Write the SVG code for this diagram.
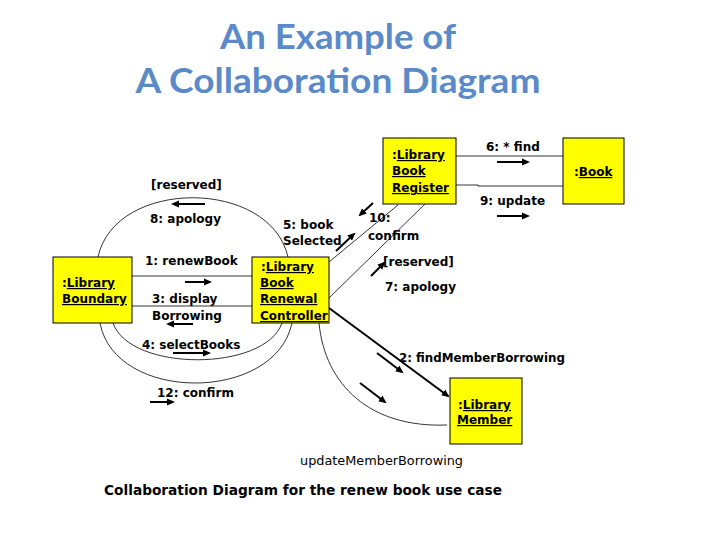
<svg xmlns="http://www.w3.org/2000/svg" width="720" height="540" viewBox="0 0 720 540">
<defs>
<marker id="ah" markerWidth="9" markerHeight="9" refX="6" refY="4.5" orient="auto" markerUnits="userSpaceOnUse">
<path d="M0,1 L8,4.5 L0,8 z" fill="#000"/>
</marker>
<style>
.t{font-family:"DejaVu Sans","Liberation Sans",sans-serif;font-size:12px;font-weight:bold;fill:#000}
.u{text-decoration:underline}
.box{fill:#ffff00;stroke:#000;stroke-width:1}
.ln{fill:none;stroke:#000;stroke-width:0.8}
.ar{stroke:#000;stroke-width:2;marker-end:url(#ah)}
.title{font-family:"Lato","Open Sans",sans-serif;font-weight:bold;font-size:35px;fill:#5b8ac9}
</style>
</defs>
<rect width="720" height="540" fill="#fff"/>
<text class="title" x="338" y="49" text-anchor="middle" textLength="236" lengthAdjust="spacingAndGlyphs">An Example of</text>
<text class="title" x="338" y="93" text-anchor="middle" textLength="405" lengthAdjust="spacingAndGlyphs">A Collaboration Diagram</text>

<g id="connectors">
<line class="ln" x1="132" y1="276" x2="252" y2="276"/>
<line class="ln" x1="132" y1="306" x2="252" y2="306"/>
<line class="ln" x1="456" y1="156" x2="563" y2="156"/>
<polyline class="ln" points="456,185 478,185 478,186 563,186"/>
<line class="ln" x1="329" y1="262" x2="398" y2="205"/>
<line class="ln" x1="329" y1="298" x2="425" y2="204"/>
<line x1="329" y1="308" x2="448" y2="396" stroke="#000" stroke-width="2" marker-end="url(#ah)"/>
<path class="ln" d="M319,323 C325,385 370,428 447,425"/>
<path class="ln" d="M98,257 C115,178 270,178 288,257"/>
<path class="ln" d="M113,323 C130,372 265,372 282,323"/>
<path class="ln" d="M100,323 C115,403 275,403 292,323"/>
<!-- message arrows -->
<line class="ar" x1="185" y1="282" x2="210" y2="282"/>
<line class="ar" x1="193" y1="324" x2="168" y2="324"/>
<line class="ar" x1="205" y1="204" x2="173" y2="204"/>
<line class="ar" x1="173" y1="353" x2="209" y2="353"/>
<line class="ar" x1="150" y1="402" x2="173" y2="402"/>
<line class="ar" x1="497" y1="162" x2="528" y2="162"/>
<line class="ar" x1="497" y1="216" x2="528" y2="216"/>
<line class="ar" x1="336" y1="251" x2="354" y2="234"/>
<line class="ar" x1="373" y1="203" x2="360" y2="215"/>
<line class="ar" x1="371" y1="276" x2="384" y2="263"/>
<line class="ar" x1="377" y1="353" x2="402" y2="372"/>
<line class="ar" x1="360" y1="383" x2="385" y2="402"/>
</g>

<g id="boundary">
<rect class="box" x="53" y="257" width="79" height="66"/>
<text class="t" x="62" y="287">:<tspan class="u">Library</tspan></text>
<text class="t u" x="62" y="303">Boundary</text>
</g>
<g id="controller">
<rect class="box" x="252" y="257" width="77" height="66"/>
<text class="t" x="261" y="271">:<tspan class="u">Library</tspan></text>
<text class="t u" x="260" y="287">Book</text>
<text class="t u" x="260" y="303">Renewal</text>
<text class="t u" x="260" y="320">Controller</text>
</g>
<g id="register">
<rect class="box" x="383" y="138" width="73" height="66"/>
<text class="t" x="392" y="159">:<tspan class="u">Library</tspan></text>
<text class="t u" x="392" y="175">Book</text>
<text class="t u" x="392" y="192">Register</text>
</g>
<g id="book">
<rect class="box" x="563" y="138" width="61" height="66"/>
<text class="t" x="574" y="176">:<tspan class="u">Book</tspan></text>
</g>
<g id="member">
<rect class="box" x="450" y="378" width="72" height="66"/>
<text class="t" x="458" y="409">:<tspan class="u">Library</tspan></text>
<text class="t u" x="457" y="424">Member</text>
</g>

<g id="labels">
<text class="t" x="151" y="189">[reserved]</text>
<text class="t" x="150" y="223">8: apology</text>
<text class="t" x="145" y="265">1: renewBook</text>
<text class="t" x="152" y="303">3: display</text>
<text class="t" x="152" y="320">Borrowing</text>
<text class="t" x="142" y="349">4: selectBooks</text>
<text class="t" x="157" y="397">12: confirm</text>
<text class="t" x="283" y="229">5: book</text>
<text class="t" x="283" y="245">Selected</text>
<text class="t" x="486" y="151">6: * find</text>
<text class="t" x="480" y="205">9: update</text>
<text class="t" x="369" y="222">10:</text>
<text class="t" x="368" y="240">confirm</text>
<text class="t" x="383" y="266">[reserved]</text>
<text class="t" x="385" y="291">7: apology</text>
<text class="t" x="399" y="362" textLength="166" lengthAdjust="spacingAndGlyphs">2: findMemberBorrowing</text>
<text class="t" x="300" y="465" style="font-weight:normal" textLength="163" lengthAdjust="spacingAndGlyphs">updateMemberBorrowing</text>
<text class="t" x="104" y="495" style="font-size:14px" textLength="398" lengthAdjust="spacingAndGlyphs">Collaboration Diagram  for the renew book use case</text>
</g>
</svg>
